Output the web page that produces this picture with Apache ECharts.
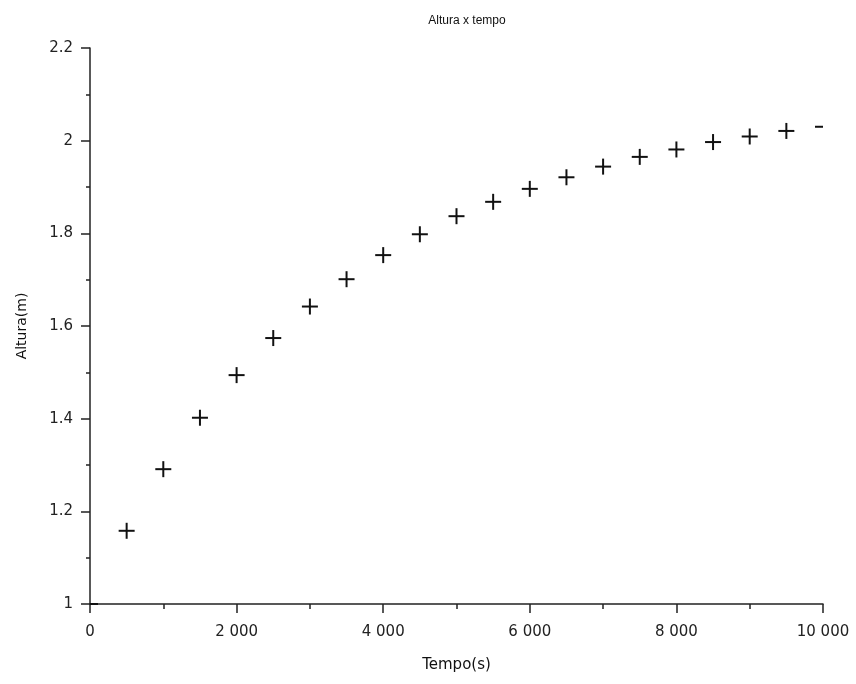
<!DOCTYPE html>
<html>
<head>
<meta charset="utf-8">
<script src="https://cdn.jsdelivr.net/npm/echarts@6/dist/echarts.min.js"></script>
<style>html,body{margin:0;padding:0;background:#fff}#c{width:856px;height:684px}</style>
</head>
<body>
<div id="c"></div>
<script>
const tempo = [0, 500, 1000, 1500, 2000, 2500, 3000, 3500, 4000, 4500, 5000, 5500, 6000, 6500, 7000, 7500, 8000, 8500, 9000, 9500, 10000];
const altura = [1.000, 1.158, 1.291, 1.402, 1.494, 1.574, 1.642, 1.701, 1.753, 1.798, 1.837, 1.868, 1.896, 1.921, 1.944, 1.965, 1.981, 1.997, 2.009, 2.021, 2.030];
const titleText = 'Altura x tempo';
const xName = 'Tempo(s)';
const yName = 'Altura(m)';

const data = tempo.map((t, i) => [t, altura[i]]);
const chart = echarts.init(document.getElementById('c'), null, {renderer: 'canvas'});
const half = 8;
const lineStyle = {stroke: '#111', lineWidth: 2};

chart.setOption({
  animation: false,
  backgroundColor: '#fff',
  title: {
    text: titleText, left: 462, top: 10, textAlign: 'center',
    textStyle: {fontFamily: 'Liberation Sans', fontSize: 12, fontWeight: 'normal', color: '#111'}
  },
  grid: {left: 90, right: 33, top: 48, bottom: 80, containLabel: false},
  xAxis: {
    type: 'value', min: 0, max: 10000, interval: 2000,
    name: xName, nameLocation: 'middle', nameGap: 54,
    nameTextStyle: {fontFamily: 'DejaVu Sans', fontSize: 15, color: '#111'},
    axisLine: {show: true, onZero: false, lineStyle: {color: '#222', width: 1.5}},
    axisTick: {show: true, inside: false, length: 9, lineStyle: {color: '#222', width: 1.5}},
    minorTick: {show: true, splitNumber: 2, length: 5, lineStyle: {color: '#222', width: 1.5}},
    splitLine: {show: false},
    axisLabel: {
      margin: 21, fontFamily: 'DejaVu Sans', fontSize: 15, color: '#222',
      formatter: v => String(v).replace(/\B(?=(\d{3})+(?!\d))/g, ' ')
    }
  },
  yAxis: {
    type: 'value', min: 1, max: 2.2, interval: 0.2,
    name: yName, nameLocation: 'middle', nameGap: 61, nameRotate: 90,
    nameTextStyle: {fontFamily: 'DejaVu Sans', fontSize: 14, color: '#111'},
    axisLine: {show: true, onZero: false, lineStyle: {color: '#222', width: 1.5}},
    axisTick: {show: true, inside: false, length: 9, lineStyle: {color: '#222', width: 1.5}},
    minorTick: {show: true, splitNumber: 2, length: 4, lineStyle: {color: '#222', width: 1.5}},
    splitLine: {show: false},
    axisLabel: {
      margin: 17, fontFamily: 'DejaVu Sans', fontSize: 15, color: '#222',
      formatter: v => String(Math.round(v * 10) / 10)
    }
  },
  series: [{
    type: 'custom',
    data: data,
    encode: {x: 0, y: 1},
    renderItem: function (params, api) {
      const p = api.coord([api.value(0), api.value(1)]);
      const cs = params.coordSys;
      const x0 = cs.x, x1 = cs.x + cs.width, y0 = cs.y, y1 = cs.y + cs.height;
      const children = [];
      const hx0 = Math.max(p[0] - half, x0), hx1 = Math.min(p[0] + half, x1);
      if (hx1 > hx0) {
        children.push({type: 'line', shape: {x1: hx0, y1: p[1], x2: hx1, y2: p[1]}, style: lineStyle});
      }
      if (p[0] > x0 + 0.5 && p[0] < x1 - 0.5) {
        children.push({type: 'line', shape: {x1: p[0], y1: Math.max(p[1] - half, y0), x2: p[0], y2: Math.min(p[1] + half, y1)}, style: lineStyle});
      }
      return {type: 'group', children: children};
    }
  }]
});
</script>
</body>
</html>
